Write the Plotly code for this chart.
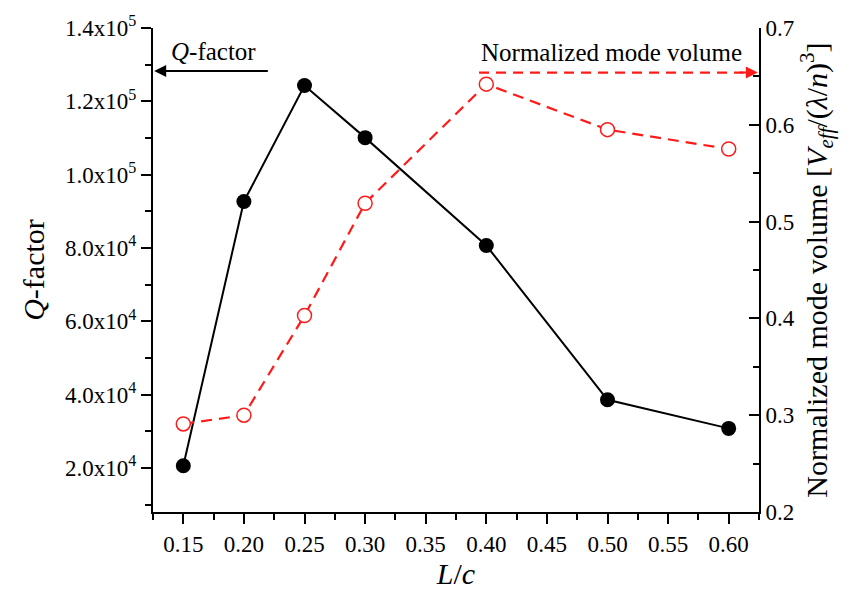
import plotly.graph_objects as go

# Data
lc = [0.15, 0.20, 0.25, 0.30, 0.40, 0.50, 0.60]
q_factor = [20600, 92700, 124300, 110100, 80700, 38600, 30800]
mode_volume = [0.291, 0.300, 0.403, 0.519, 0.642, 0.595, 0.575]

q_tickvals = [20000, 40000, 60000, 80000, 100000, 120000, 140000]
q_ticktext = ["2.0x10<sup>4</sup>", "4.0x10<sup>4</sup>", "6.0x10<sup>4</sup>", "8.0x10<sup>4</sup>",
              "1.0x10<sup>5</sup>", "1.2x10<sup>5</sup>", "1.4x10<sup>5</sup>"]
x_tickvals = [0.15, 0.20, 0.25, 0.30, 0.35, 0.40, 0.45, 0.50, 0.55, 0.60]
x_ticktext = ["0.15", "0.20", "0.25", "0.30", "0.35", "0.40", "0.45", "0.50", "0.55", "0.60"]
v_tickvals = [0.2, 0.3, 0.4, 0.5, 0.6, 0.7]
v_ticktext = ["0.2", "0.3", "0.4", "0.5", "0.6", "0.7"]

FONT = "Liberation Serif"
RED = "#ff1a1a"

fig = go.Figure()
fig.add_trace(go.Scatter(
    x=lc, y=q_factor, mode="lines+markers",
    line=dict(color="black", width=2),
    marker=dict(color="black", size=15, symbol="circle"),
    showlegend=False, yaxis="y"))
fig.add_trace(go.Scatter(
    x=lc, y=mode_volume, mode="lines+markers",
    line=dict(color=RED, width=2.2, dash="11px,7px"),
    marker=dict(color="white", size=14, symbol="circle", line=dict(color=RED, width=1.5)),
    showlegend=False, yaxis="y2"))

axis_common = dict(showline=True, linecolor="black", linewidth=2, showgrid=False,
                   zeroline=False, tickcolor="black", tickwidth=2, ticklen=10,
                   tickfont=dict(family=FONT, size=23, color="black"))

fig.update_layout(
    width=852, height=594,
    margin=dict(l=153, r=93, t=24, b=73),
    paper_bgcolor="white", plot_bgcolor="white",
    font=dict(family=FONT, color="black"),
    xaxis=dict(range=[0.125, 0.625], tickmode="array", tickvals=x_tickvals, ticktext=x_ticktext,
               ticks="outside",
               minor=dict(tickmode="linear", tick0=0.125, dtick=0.05, ticks="outside", ticklen=6,
                          tickwidth=2, tickcolor="black"),
               title=dict(text="<i>L</i>/<i>c</i>", font=dict(family=FONT, size=30), standoff=4),
               **axis_common),
    yaxis=dict(range=[8000, 140000], tickmode="array", tickvals=q_tickvals, ticktext=q_ticktext,
               ticks="outside",
               minor=dict(tickmode="linear", tick0=0, dtick=10000, ticks="outside", ticklen=6,
                          tickwidth=2, tickcolor="black"),
               title=dict(text="<i>Q</i>-factor", font=dict(family=FONT, size=30), standoff=12),
               **axis_common),
    yaxis2=dict(range=[0.2, 0.7], overlaying="y", side="right", anchor="x",
                tickmode="array", tickvals=v_tickvals, ticktext=v_ticktext,
                ticks="inside",
                minor=dict(tickmode="linear", tick0=0.2, dtick=0.05, ticks="inside", ticklen=6,
                           tickwidth=2, tickcolor="black"),
                title=dict(text="Normalized mode volume [<i>V</i><sub><i>eff</i></sub>/(<i>λ</i>/<i>n</i>)<sup>3</sup>]",
                           font=dict(family=FONT, size=30), standoff=12),
                **axis_common),
)

# Q-factor annotation and arrow
fig.add_annotation(x=0.175, y=133700, xref="x", yref="y", text="<i>Q</i>-factor",
                   showarrow=False, font=dict(family=FONT, size=25, color="black"))
fig.add_annotation(x=0.126, y=128300, ax=0.221, ay=128300, xref="x", yref="y",
                   axref="x", ayref="y", text="", showarrow=True,
                   arrowhead=2, arrowsize=1.2, arrowwidth=2, arrowcolor="black")

# Normalized mode volume annotation and dashed arrow
fig.add_annotation(x=0.503, y=0.6745, xref="x", yref="y2", text="Normalized mode volume",
                   showarrow=False, font=dict(family=FONT, size=25, color="black"))
fig.add_shape(type="line", xref="x", yref="y2", x0=0.394, x1=0.612, y0=0.654, y1=0.654,
              line=dict(color=RED, width=2.2, dash="10px,7px"))
fig.add_annotation(x=0.624, y=0.654, ax=0.608, ay=0.654, xref="x", yref="y2",
                   axref="x", ayref="y2", text="", showarrow=True,
                   arrowhead=2, arrowsize=1.2, arrowwidth=2, arrowcolor=RED)

fig.write_html("out.html")
